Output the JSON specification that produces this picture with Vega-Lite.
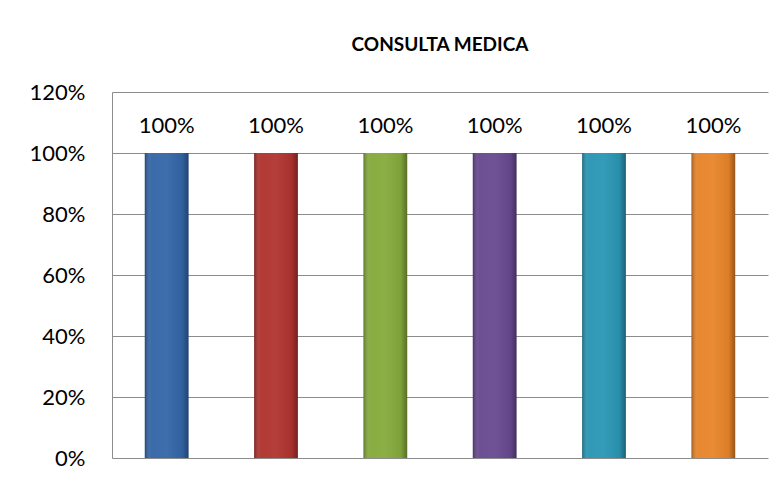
{
  "$schema": "https://vega.github.io/schema/vega-lite/v6.json",
  "width": 656,
  "height": 366,
  "autosize": "none",
  "padding": {"left": 112, "top": 92, "right": 16, "bottom": 27},
  "background": "white",
  "title": {
    "text": "CONSULTA MEDICA",
    "font": "Lato",
    "fontSize": 19,
    "fontWeight": "bold",
    "color": "#000000",
    "anchor": "middle",
    "offset": 26
  },
  "data": {
    "values": [
      {"cat": "A", "value": 1.0},
      {"cat": "B", "value": 1.0},
      {"cat": "C", "value": 1.0},
      {"cat": "D", "value": 1.0},
      {"cat": "E", "value": 1.0},
      {"cat": "F", "value": 1.0}
    ]
  },
  "encoding": {
    "x": {"field": "cat", "type": "nominal", "axis": null, "sort": null, "scale": {"paddingInner": 0.6, "paddingOuter": 0.3}},
    "y": {
      "field": "value",
      "type": "quantitative",
      "scale": {"domain": [0, 1.2], "nice": false},
      "axis": {
        "title": null,
        "format": ".0%",
        "values": [0, 0.2, 0.4, 0.6, 0.8, 1.0, 1.2],
        "grid": true,
        "gridColor": "#8c8c8c",
        "gridWidth": 1,
        "domain": true,
        "domainColor": "#8c8c8c",
        "ticks": false,
        "labelPadding": 27,
        "labelFont": "Lato",
        "labelFontSize": 22,
        "labelColor": "#000000"
      }
    }
  },
  "layer": [
    {
      "mark": {"type": "bar"},
      "encoding": {
        "color": {
          "field": "cat",
          "type": "nominal",
          "legend": null,
          "scale": {"range": ["#3566a8", "#b0342f", "#86aa3c", "#684990", "#2a96b4", "#e8842a"]}
        }
      }
    },
    {
      "mark": {
        "type": "bar",
        "color": {
          "gradient": "linear",
          "x1": 0, "x2": 1, "y1": 0, "y2": 0,
          "stops": [
            {"offset": 0, "color": "rgba(0,0,0,0.3)"},
            {"offset": 0.15, "color": "rgba(255,255,255,0.03)"},
            {"offset": 0.5, "color": "rgba(255,255,255,0.05)"},
            {"offset": 0.85, "color": "rgba(0,0,0,0.05)"},
            {"offset": 1, "color": "rgba(0,0,0,0.35)"}
          ]
        }
      },
      "encoding": {}
    },
    {
      "mark": {"type": "text", "dy": -27, "baseline": "middle", "font": "Lato", "fontSize": 22, "color": "#000000"},
      "encoding": {
        "text": {"field": "value", "type": "quantitative", "format": ".0%"}
      }
    }
  ],
  "config": {"view": {"stroke": null}}
}
